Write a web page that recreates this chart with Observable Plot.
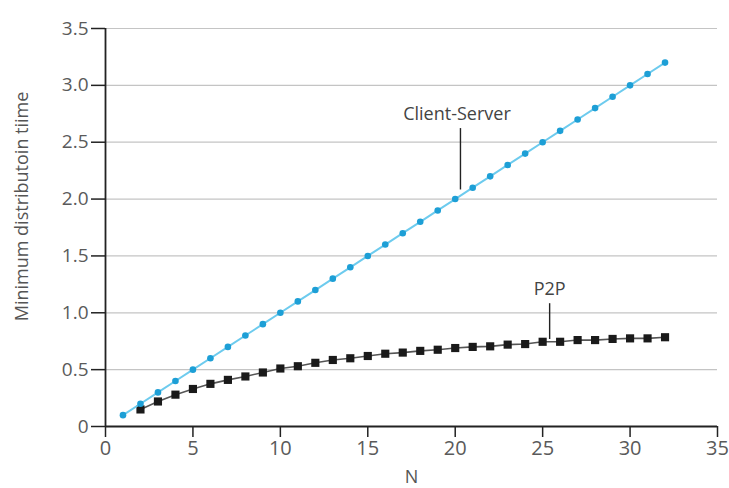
<!DOCTYPE html>
<html>
<head>
<meta charset="utf-8">
<script src="https://cdn.jsdelivr.net/npm/d3@7"></script>
<script src="https://cdn.jsdelivr.net/npm/@observablehq/plot@0.6"></script>
<style>
  html, body { margin: 0; padding: 0; background: #fff; }
  #chart svg { display: block; }
</style>
</head>
<body>
<div id="chart"></div>
<script>
// ---- data ----
const csN = [1,2,3,4,5,6,7,8,9,10,11,12,13,14,15,16,17,18,19,20,21,22,23,24,25,26,27,28,29,30,31,32];
const csTime = [0.1,0.2,0.3,0.4,0.5,0.6,0.7,0.8,0.9,1.0,1.1,1.2,1.3,1.4,1.5,1.6,1.7,1.8,1.9,2.0,2.1,2.2,2.3,2.4,2.5,2.6,2.7,2.8,2.9,3.0,3.1,3.2];
const p2pN = [2,3,4,5,6,7,8,9,10,11,12,13,14,15,16,17,18,19,20,21,22,23,24,25,26,27,28,29,30,31,32];
const p2pTime = [0.15,0.22,0.28,0.33,0.375,0.41,0.44,0.475,0.51,0.53,0.56,0.585,0.60,0.62,0.64,0.65,0.665,0.675,0.69,0.70,0.705,0.72,0.725,0.745,0.745,0.76,0.76,0.77,0.775,0.775,0.785];
const xTicks = [0,5,10,15,20,25,30,35];
const yTicks = [0,0.5,1.0,1.5,2.0,2.5,3.0,3.5];
const yTickLabels = ["0","0.5","1.0","1.5","2.0","2.5","3.0","3.5"];
const xLabel = "N";
const yLabel = "Minimum distributoin tiime";
const seriesLabels = ["Client-Server", "P2P"];
const labelAt = [{n: 20.1, t: 2.75, from: 2.62, to: 2.08}, {n: 25.4, t: 1.21, from: 1.08, to: 0.765}];

const cs = csN.map((n, i) => ({n, t: csTime[i]}));
const p2p = p2pN.map((n, i) => ({n, t: p2pTime[i]}));
const ann = seriesLabels.map((s, i) => ({label: s, ...labelAt[i]}));

const font = "'Open Sans', sans-serif";

const chart = Plot.plot({
  width: 729,
  height: 488,
  marginLeft: 105,
  marginRight: 12,
  marginTop: 28,
  marginBottom: 62,
  style: {fontFamily: font, background: "#fff", overflow: "visible"},
  x: {domain: [0, 35]},
  y: {domain: [0, 3.5]},
  marks: [
    Plot.gridY(yTicks.slice(1), {stroke: "#c4c4c4", strokeOpacity: 1, strokeWidth: 1.2}),
    Plot.axisY(yTicks, {tickSize: 14, tickPadding: 3, fontSize: 19, fill: "#5a5a5a", stroke: "#222", strokeWidth: 1.5,
      tickFormat: (d) => yTickLabels[yTicks.indexOf(d)], label: null}),
    Plot.axisX(xTicks, {tickSize: 11, tickPadding: 3, fontSize: 20, fill: "#5a5a5a", stroke: "#222", strokeWidth: 1.5, label: null}),
    Plot.ruleX([0], {y1: 0, y2: 3.5, stroke: "#222", strokeWidth: 1.8}),
    Plot.ruleY([0], {x1: 0, x2: 35, stroke: "#222", strokeWidth: 1.8}),
    Plot.text([xLabel], {frameAnchor: "bottom", dy: 56, fontSize: 18, fill: "#555"}),
    Plot.text([yLabel], {x: -4.75, y: 1.935, rotate: -90, textAnchor: "middle", fontSize: 18, fill: "#555", clip: false}),
    // P2P
    Plot.line(p2p, {x: "n", y: "t", stroke: "#555", strokeWidth: 1.6}),
    Plot.dot(p2p, {x: "n", y: "t", symbol: "square", r: 4.6, fill: "#1a1a1a", stroke: "none"}),
    // Client-Server
    Plot.line(cs, {x: "n", y: "t", stroke: "#6dcbee", strokeWidth: 2}),
    Plot.dot(cs, {x: "n", y: "t", r: 3.3, fill: "#1d9fd6", stroke: "none"}),
    // annotations
    Plot.ruleX(ann, {x: (d) => d.label === "P2P" ? d.n : 20.3, y1: "from", y2: "to", stroke: "#222", strokeWidth: 1.4}),
    Plot.text(ann, {x: "n", y: "t", text: "label", fontSize: 18, fill: "#444"})
  ]
});
document.getElementById("chart").appendChild(chart);
</script>
</body>
</html>
